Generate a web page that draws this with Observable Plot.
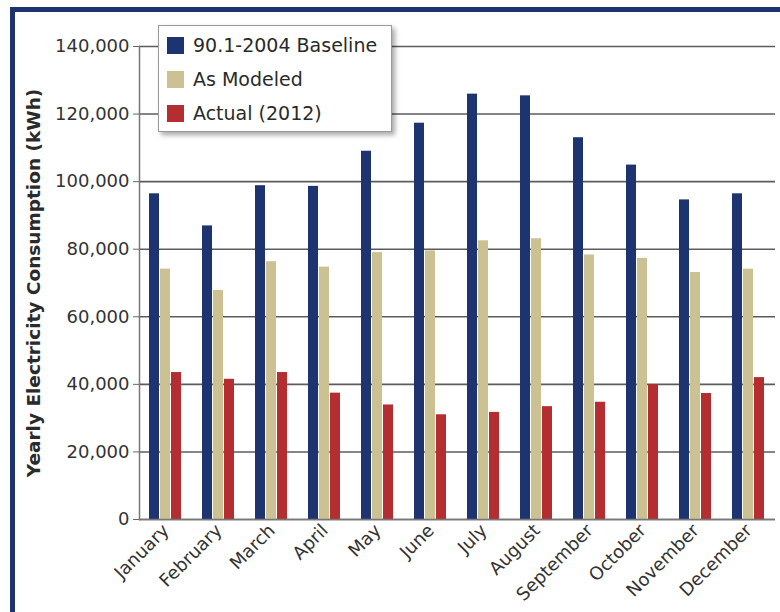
<!DOCTYPE html>
<html>
<head>
<meta charset="utf-8">
<script src="https://cdn.jsdelivr.net/npm/d3@7"></script>
<script src="https://cdn.jsdelivr.net/npm/@observablehq/plot@0.6"></script>
<style>
  body { margin: 0; background: #fff; }
  #wrap { position: relative; width: 780px; height: 612px; overflow: hidden; font-family: "DejaVu Sans", sans-serif; background: #fff; }
  #chart { position: absolute; left: 0; top: 0; }
  #frame { position: absolute; left: 10px; top: 7px; width: 800px; height: 605px; border-left: 5px solid #1d3470; border-top: 5px solid #1d3470; box-sizing: border-box; pointer-events: none; }
  #ylabel { position: absolute; left: 33px; top: 283px; transform: translate(-50%, -50%) rotate(-90deg); white-space: nowrap; font-weight: bold; font-size: 18.5px; color: #2a2a2a; }
  #legend { position: absolute; left: 158px; top: 25px; width: 234px; height: 107px; box-sizing: border-box; background: #fff; border: 1px solid #9a9a9a; box-shadow: 3px 3px 5px rgba(0,0,0,0.35); }
  .item { position: absolute; left: 8px; height: 20px; display: flex; align-items: center; font-size: 19px; color: #2a2a2a; white-space: nowrap; }
  .sw { width: 17px; height: 17px; margin-right: 9px; flex: none; }
</style>
</head>
<body>
<div id="wrap">
  <div id="chart"></div>
  <div id="frame"></div>
  <div id="ylabel"></div>
  <div id="legend"></div>
</div>
<script>
const months = ["January","February","March","April","May","June","July","August","September","October","November","December"];
const seriesNames = ["90.1-2004 Baseline", "As Modeled", "Actual (2012)"];
const seriesColors = ["#1d3470", "#cbc193", "#b42d30"];
const baseline = [96400, 86900, 98800, 98600, 109000, 117300, 125900, 125400, 113000, 104900, 94600, 96400];
const modeled  = [74100, 67800, 76300, 74700, 79000, 79500, 82500, 83100, 78300, 77300, 73100, 74100];
const actual   = [43500, 41500, 43500, 37400, 33900, 31000, 31700, 33400, 34700, 39900, 37300, 42000];
const yTicks = [0, 20000, 40000, 60000, 80000, 100000, 120000, 140000];
const yLabel = "Yearly Electricity Consumption (kWh)";

const seriesValues = [baseline, modeled, actual];
const data = [];
months.forEach((m, i) => {
  seriesNames.forEach((s, j) => data.push({month: m, series: s, value: seriesValues[j][i]}));
});

const chart = Plot.plot({
  width: 780,
  height: 612,
  marginLeft: 136,
  marginRight: 2,
  marginTop: 46,
  marginBottom: 93,
  style: { fontFamily: "DejaVu Sans, sans-serif", background: "transparent", overflow: "visible" },
  fx: { domain: months, padding: 0, label: null },
  x: { domain: seriesNames, paddingInner: 0.08, paddingOuter: 0.77, axis: null },
  y: { domain: [0, 140000] },
  color: { domain: seriesNames, range: seriesColors },
  marks: [
    Plot.gridY(yTicks, { stroke: "#5c5c5c", strokeOpacity: 1, strokeWidth: 1.6 }),
    Plot.barY(data, { fx: "month", x: "series", y: "value", fill: "series" }),
    Plot.ruleY([0], { stroke: "#777", strokeWidth: 1.5 }),
    Plot.frame({ anchor: "left", facetAnchor: "left", stroke: "#777", strokeWidth: 1.5 }),
    Plot.axisY(yTicks, { tickFormat: d3.format(","), tickSize: 6, tickPadding: 4, fontSize: 18, color: "#333", stroke: "#666", label: null }),
    Plot.axisFx({ anchor: "bottom", tickRotate: -45, tickSize: 0, tickPadding: 8, fontSize: 18, color: "#333", label: null })
  ]
});
document.getElementById("chart").appendChild(chart);
document.getElementById("ylabel").textContent = yLabel;

const legend = document.getElementById("legend");
seriesNames.forEach((s, j) => {
  const it = document.createElement("div");
  it.className = "item";
  it.style.top = (9 + j * 34) + "px";
  const sw = document.createElement("span");
  sw.className = "sw";
  sw.style.background = seriesColors[j];
  const tx = document.createElement("span");
  tx.textContent = s;
  it.appendChild(sw);
  it.appendChild(tx);
  legend.appendChild(it);
});
</script>
</body>
</html>
